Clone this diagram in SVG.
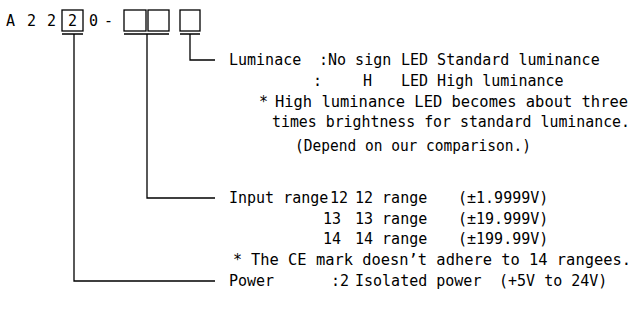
<svg xmlns="http://www.w3.org/2000/svg" width="636" height="320" viewBox="0 0 636 320">
<style>
text{font-family:"DejaVu Sans Mono","Liberation Mono",monospace;font-size:15px;fill:#000}
.ln{fill:none;stroke:#000;stroke-width:1.3}
.bx{fill:none;stroke:#000;stroke-width:1.3}
</style>
<rect width="636" height="320" fill="#fff"/>
<g id="model">
<text x="6" y="26">A</text>
<text x="27" y="26">2</text>
<text x="47" y="26">2</text>
<rect class="bx" x="62" y="10" width="21" height="21"/>
<text x="68" y="26">2</text>
<text x="89" y="26">0</text>
<text x="104" y="26">-</text>
<rect class="bx" x="124" y="10" width="22" height="21"/>
<rect class="bx" x="148" y="10" width="21" height="21"/>
<rect class="bx" x="180" y="10" width="20" height="21"/>
</g>
<g id="connectors">
<path class="ln" d="M62 34H83M74 34V281H215"/>
<path class="ln" d="M124 34H169M147 34V198H215"/>
<path class="ln" d="M180 34H200M190 34V60H215"/>
</g>
<g id="luminance">
<text x="229" y="65">Luminace</text>
<text x="319" y="65">:No sign</text>
<text x="401" y="65">LED Standard luminance</text>
<text x="313" y="86">:</text>
<text x="363" y="86">H</text>
<text x="401" y="86">LED High luminance</text>
<text x="259" y="107">*</text>
<text x="275" y="107" textLength="353" lengthAdjust="spacingAndGlyphs">High luminance LED becomes about three</text>
<text x="272" y="127" textLength="358" lengthAdjust="spacingAndGlyphs">times brightness for standard luminance.</text>
<text x="295" y="151" textLength="236" lengthAdjust="spacingAndGlyphs">(Depend on our comparison.)</text>
</g>
<g id="input-range">
<text x="229" y="203">Input range</text>
<text x="330" y="203">12</text>
<text x="355" y="203">12 range</text>
<text x="458" y="203">(±1.9999V)</text>
<text x="323" y="224">13</text>
<text x="355" y="224">13 range</text>
<text x="458" y="224">(±19.999V)</text>
<text x="323" y="244">14</text>
<text x="355" y="244">14 range</text>
<text x="458" y="244">(±199.99V)</text>
<text x="233" y="265">*</text>
<text x="251" y="265" textLength="380" lengthAdjust="spacingAndGlyphs">The CE mark doesn’t adhere to 14 rangees.</text>
</g>
<g id="power">
<text x="229" y="286">Power</text>
<text x="331" y="286">:2</text>
<text x="355" y="286">Isolated power</text>
<text x="499" y="286">(+5V to 24V)</text>
</g>
</svg>
